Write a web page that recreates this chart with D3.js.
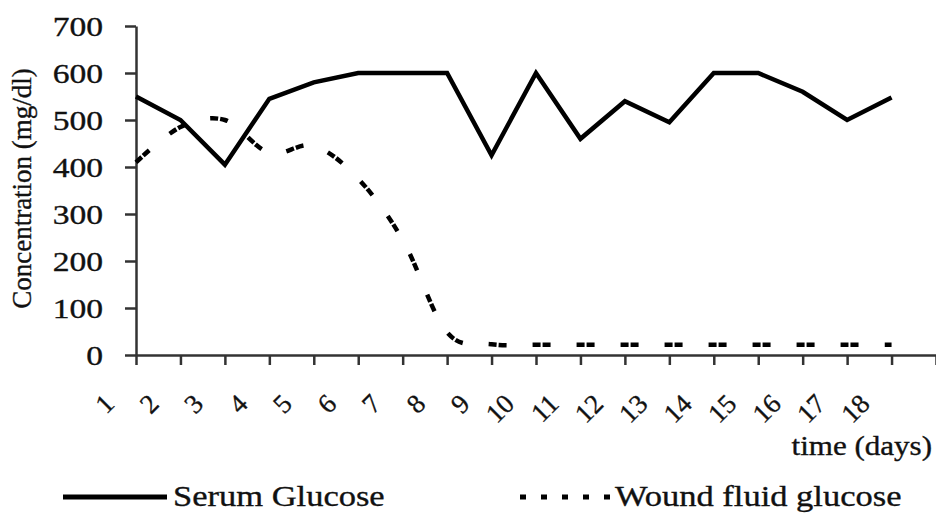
<!DOCTYPE html>
<html>
<head>
<meta charset="utf-8">
<script src="https://cdn.jsdelivr.net/npm/d3@7"></script>
<style>
  html, body { margin: 0; padding: 0; background: #fff; }
  svg { display: block; }
  text { font-family: "Liberation Serif", "DejaVu Serif", serif; fill: #111; stroke: #111; stroke-width: 0.35px; }
</style>
</head>
<body>
<svg id="chart" width="936" height="516"></svg>
<script>
// ---- data ----
const days = [1, 2, 3, 4, 5, 6, 7, 8, 9, 10, 11, 12, 13, 14, 15, 16, 17, 18];
const serumGlucose = [550, 500, 405, 545, 580, 600, 600, 600, 425, 600, 460, 540, 495, 600, 600, 560, 500, 548];
const woundGlucose = [410, 485, 500, 430, 445, 375, 245, 48, 23, 22, 22, 22, 22, 22, 22, 22, 22, 22];
const yTickValues = [0, 100, 200, 300, 400, 500, 600, 700];
const xAxisEnd = 19; // axis continues one category past the data
const seriesNames = ["Serum Glucose", "Wound fluid glucose"];
const yTitle = "Concentration (mg/dl)";
const xTitle = "time (days)";

// ---- layout ----
const svg = d3.select("#chart");
const axisColor = "#333";
const x = d3.scaleLinear().domain([days[0], xAxisEnd]).range([136, 936]);
const y = d3.scaleLinear().domain([0, 700]).range([355, 26]);

// y axis
const gy = svg.append("g").attr("transform", `translate(${x(days[0])},0)`)
  .call(d3.axisLeft(y).tickValues(yTickValues).tickSize(11).tickSizeOuter(0));
gy.select(".domain").attr("stroke", axisColor).attr("stroke-width", 2.5);
gy.selectAll(".tick line").attr("stroke", axisColor).attr("stroke-width", 2.5);
gy.selectAll(".tick text")
  .attr("x", null).attr("dy", "0.34em")
  .attr("text-anchor", "end")
  .attr("transform", "translate(-33,0) scale(1.2,1)")
  .style("font-size", "28px");

// x axis
const gx = svg.append("g").attr("transform", `translate(0,${y(0)})`)
  .call(d3.axisBottom(x).tickValues(days.concat([xAxisEnd])).tickSize(10).tickSizeOuter(0)
    .tickFormat(d => days.includes(d) ? String(d) : ""));
gx.select(".domain").attr("stroke", axisColor).attr("stroke-width", 2.5);
gx.selectAll(".tick line").attr("stroke", axisColor).attr("stroke-width", 2.5);
gx.selectAll(".tick text")
  .attr("y", null).attr("dy", null)
  .attr("text-anchor", "end")
  .attr("dominant-baseline", "central")
  .attr("transform", "translate(-27,44) rotate(-45)")
  .style("font-size", "27px");

// axis titles
svg.append("text")
  .attr("transform", `translate(31,${(y(700) + y(0)) / 2 - 2}) rotate(-90)`)
  .attr("text-anchor", "middle")
  .style("font-size", "27px")
  .text(yTitle);

svg.append("text")
  .attr("transform", "translate(932,455) scale(1.15,1)")
  .attr("text-anchor", "end")
  .style("font-size", "27px")
  .text(xTitle);

// series
const serumLine = d3.line().x((d, i) => x(days[i])).y(d => y(d));
svg.append("path").datum(serumGlucose)
  .attr("d", serumLine)
  .attr("fill", "none").attr("stroke", "#000").attr("stroke-width", 4.5)
  .attr("stroke-linejoin", "miter");

const woundLine = d3.line().x((d, i) => x(days[i])).y(d => y(d)).curve(d3.curveCardinal.tension(0));
svg.append("path").datum(woundGlucose)
  .attr("d", woundLine)
  .attr("fill", "none").attr("stroke", "#000").attr("stroke-width", 4.5)
  .attr("stroke-dasharray", "8,2,8,26");

// legend
const legY = 497;
svg.append("line").attr("x1", 63).attr("x2", 167).attr("y1", legY).attr("y2", legY)
  .attr("stroke", "#000").attr("stroke-width", 5);
svg.append("text").attr("transform", `translate(173,${legY + 9}) scale(1.15,1)`)
  .style("font-size", "30px").text(seriesNames[0]);

svg.append("line").attr("x1", 520).attr("x2", 611).attr("y1", legY).attr("y2", legY)
  .attr("stroke", "#000").attr("stroke-width", 5).attr("stroke-dasharray", "6,15");
svg.append("text").attr("transform", `translate(615,${legY + 9}) scale(1.15,1)`)
  .style("font-size", "30px").text(seriesNames[1]);
</script>
</body>
</html>
